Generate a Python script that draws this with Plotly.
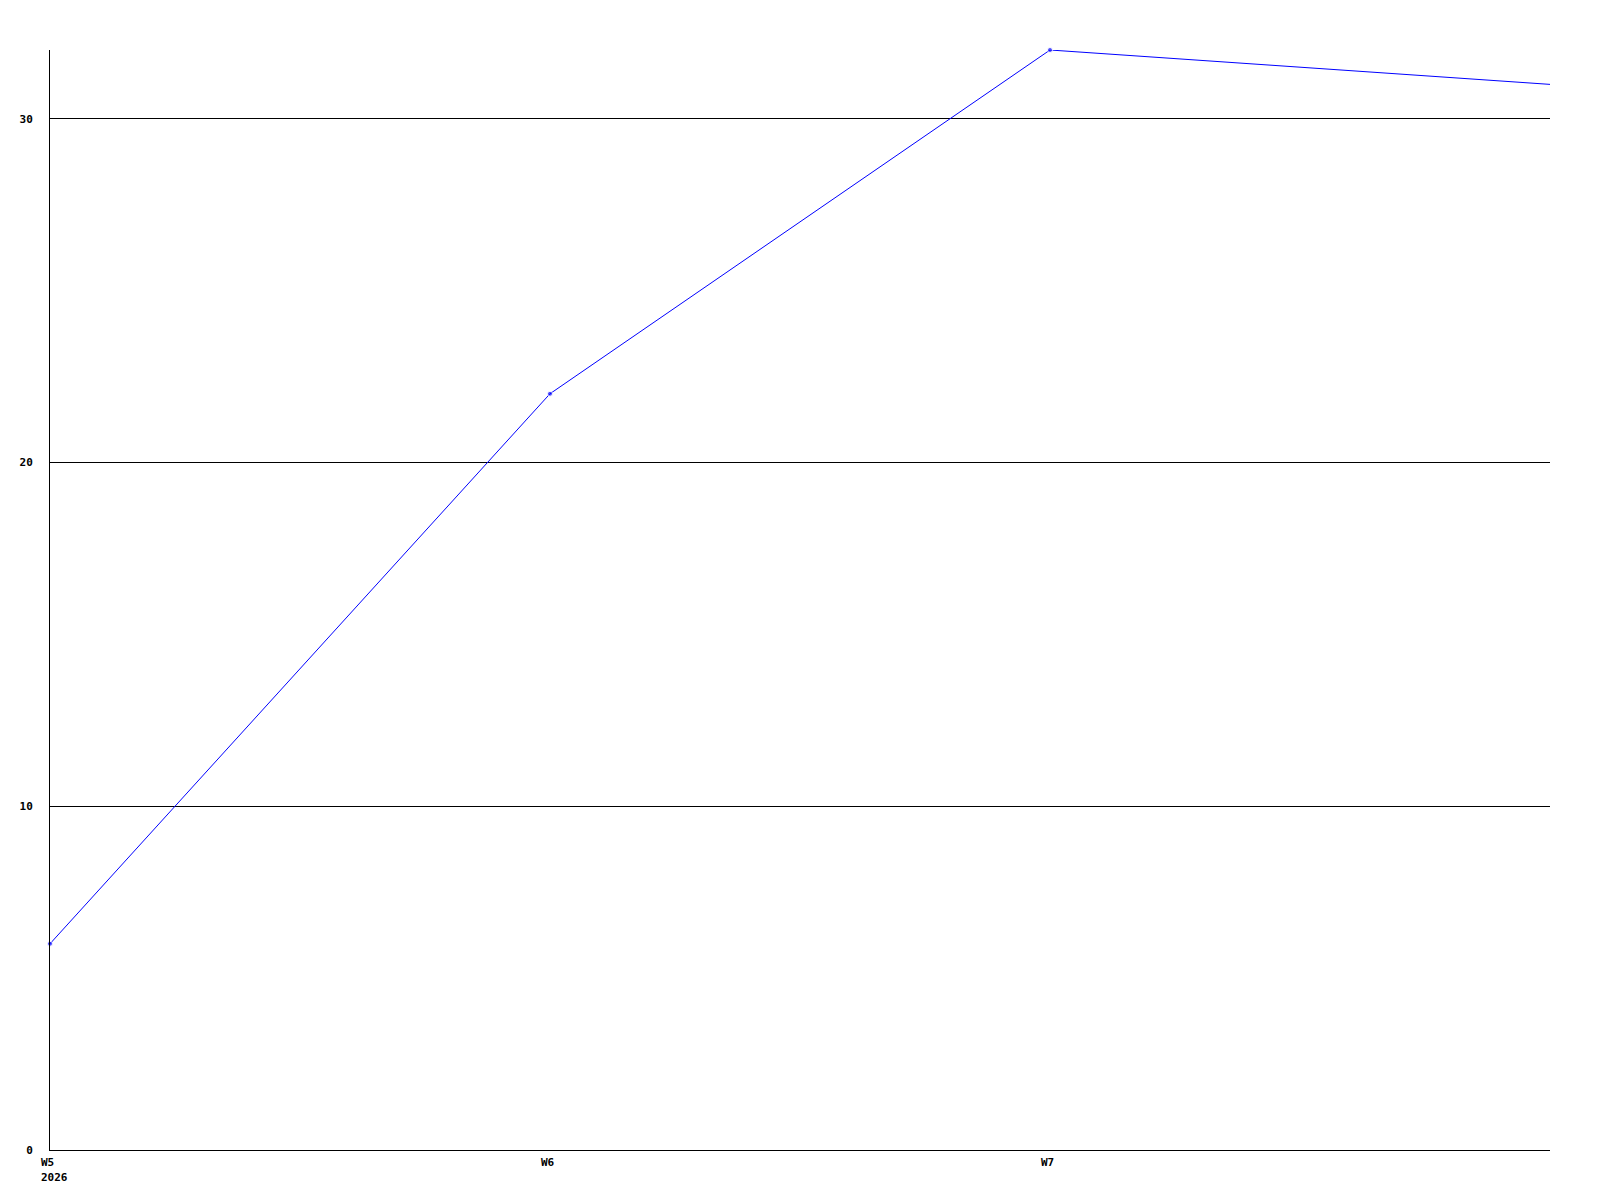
import plotly.graph_objects as go

# weekly values
weeks = ["W5", "W6", "W7", "W8"]
values = [6, 22, 32, 31]
tick_labels = ["W5", "W6", "W7"]
year_label = "2026"
y_ticks = [0, 10, 20, 30]

FONT = dict(family="DejaVu Sans Mono", size=11, color="black")

x = list(range(len(weeks)))

fig = go.Figure()
fig.add_trace(go.Scatter(
    x=x, y=values, mode="lines+markers",
    line=dict(color="#0000ff", width=1),
    marker=dict(color="#0000ff", size=[5, 5, 5, 0], symbol="circle"),
    cliponaxis=False,
    showlegend=False,
))

# x tick labels, left-aligned like the original
annotations = []
for i, lab in enumerate(tick_labels):
    annotations.append(dict(x=i, y=0, xref="x", yref="y", text="<b>%s</b>" % lab,
                            showarrow=False, xanchor="left", yanchor="top",
                            xshift=-11, yshift=-4, font=FONT))
annotations.append(dict(x=0, y=0, xref="x", yref="y", text="<b>%s</b>" % year_label,
                        showarrow=False, xanchor="left", yanchor="top",
                        xshift=-11, yshift=-19, font=FONT))

# the page adds an 8px body margin, so shift the plot area up/left by that
fig.update_layout(
    width=1600, height=1200,
    margin=dict(l=42, r=58, t=42, b=58),
    plot_bgcolor="white", paper_bgcolor="white",
    annotations=annotations,
    xaxis=dict(range=[0, 3], showgrid=False, zeroline=False, showticklabels=False,
               showline=True, linecolor="black", linewidth=1, ticks="",
               automargin=False),
    yaxis=dict(range=[0, 32], tickvals=y_ticks,
               ticktext=["<b>%d</b>" % v for v in y_ticks],
               showgrid=True, gridcolor="black", gridwidth=1, zeroline=False,
               showline=True, linecolor="black", linewidth=1, ticks="",
               ticklabelstandoff=14, tickfont=FONT, automargin=False),
)

fig.write_html("out.html")
